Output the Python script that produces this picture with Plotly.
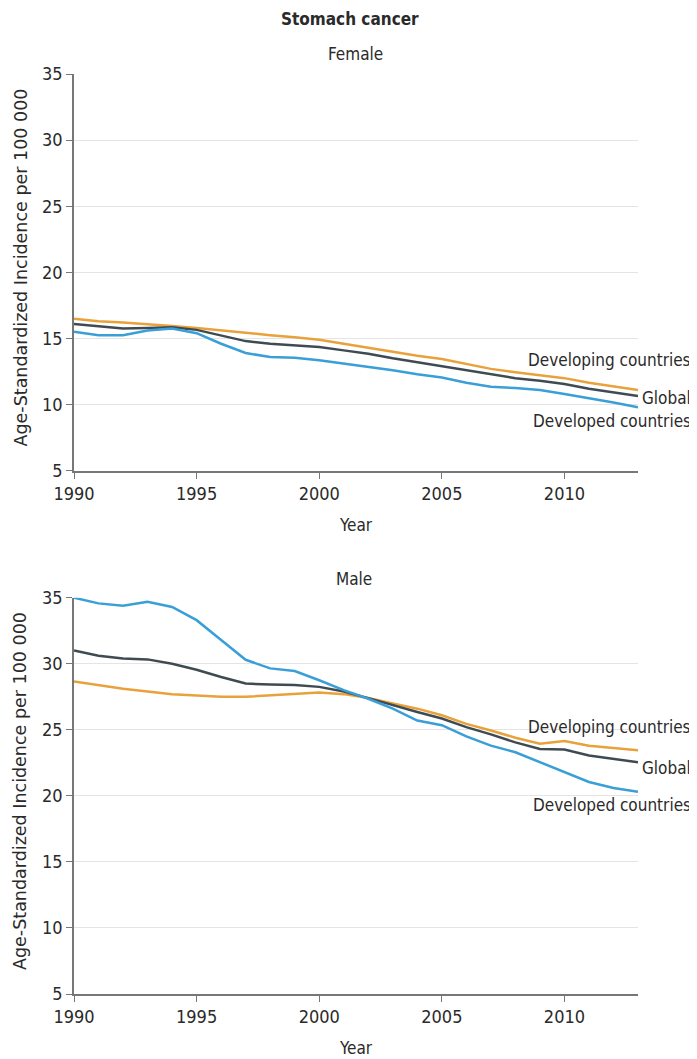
import plotly.graph_objects as go

years = list(range(1990, 2014))

female_developed = [15.5, 15.25, 15.25, 15.6, 15.75, 15.4, 14.6, 13.9, 13.6, 13.55, 13.35, 13.1,
                    12.9, 12.6, 12.3, 12.05, 11.65, 11.35, 11.25, 11.1, 10.8, 10.5, 10.15, 9.8]
female_global = [16.1, 15.9, 15.75, 15.8, 15.85, 15.65, 15.25, 14.8, 14.6, 14.5, 14.35, 14.1,
                 13.85, 13.5, 13.2, 12.9, 12.55, 12.25, 12.0, 11.8, 11.55, 11.2, 10.9, 10.65]
female_developing = [16.5, 16.3, 16.2, 16.1, 15.95, 15.8, 15.6, 15.45, 15.25, 15.1, 14.9, 14.6,
                     14.3, 13.95, 13.7, 13.45, 13.05, 12.7, 12.45, 12.25, 12.0, 11.65, 11.35, 11.1]

male_developed = [35.0, 34.57, 34.4, 34.7, 34.3, 33.3, 31.8, 30.3, 29.65, 29.45, 28.75, 28.0,
                  27.35, 26.6, 25.7, 25.35, 24.5, 23.8, 23.3, 22.55, 21.8, 21.05, 20.6, 20.3]
male_global = [31.0, 30.6, 30.4, 30.33, 30.0, 29.55, 29.0, 28.5, 28.43, 28.4, 28.25, 27.9,
               27.4, 26.85, 26.35, 25.85, 25.2, 24.65, 24.05, 23.55, 23.5, 23.05, 22.8, 22.55]
male_developing = [28.65, 28.35, 28.1, 27.9, 27.7, 27.6, 27.5, 27.5, 27.6, 27.75, 27.83, 27.7,
                   27.4, 27.0, 26.6, 26.1, 25.45, 24.95, 24.4, 23.95, 24.15, 23.8, 23.65, 23.45]

series_names = ["Developing countries", "Global", "Developed countries"]
x_ticks = [1990, 1995, 2000, 2005, 2010]
y_ticks = [5, 10, 15, 20, 25, 30, 35]

C_DEVELOPING = "#E9A23B"
C_GLOBAL = "#3E4B53"
C_DEVELOPED = "#3A9FD6"
FONT = "DejaVu Sans Condensed, Roboto, sans-serif"
FONT_REG = "DejaVu Sans, sans-serif"

# page body has an 8px margin; figure sized so it ends at the window edge
OFF = 8
W, H = 697 - OFF, 1059 - OFF


def px(x):
    return (x - OFF) / W


def py(y):
    return 1 - (y - OFF) / H


fig = go.Figure()

panels = [
    ("x", "y", female_developing, female_global, female_developed),
    ("x2", "y2", male_developing, male_global, male_developed),
]
for xa, ya, dvg, glb, dvd in panels:
    for vals, col, name in [(dvg, C_DEVELOPING, series_names[0]),
                            (glb, C_GLOBAL, series_names[1]),
                            (dvd, C_DEVELOPED, series_names[2])]:
        fig.add_trace(go.Scatter(x=years, y=vals, mode="lines", name=name,
                                 line=dict(color=col, width=2.5),
                                 xaxis=xa, yaxis=ya, showlegend=False))

xdom = [px(74), px(638)]
top_dom = [py(470.7), py(74)]
bot_dom = [py(994), py(597.7)]

axis_common_x = dict(range=[1990, 2013], tickvals=x_ticks, showgrid=False,
                     showline=True, linecolor="#777777", linewidth=1.6,
                     ticks="outside", ticklen=6, tickcolor="#777777",
                     tickfont=dict(family=FONT, size=18, color="#2a2a2a"),
                     zeroline=False, domain=xdom, automargin=False)
axis_common_y = dict(range=[5, 35], tickvals=y_ticks, showgrid=True, gridcolor="#e6e3e4",
                     gridwidth=1, showline=True, linecolor="#777777", linewidth=1.6,
                     ticks="outside", ticklen=6, tickcolor="#777777", automargin=False,
                     tickfont=dict(family=FONT, size=18, color="#2a2a2a"), zeroline=False)

fig.update_layout(
    width=W, height=H,
    margin=dict(l=0, r=0, t=0, b=0, autoexpand=False),
    paper_bgcolor="white", plot_bgcolor="white",
    xaxis=dict(**axis_common_x, anchor="y"),
    yaxis=dict(**axis_common_y, domain=top_dom, anchor="x"),
    xaxis2=dict(**axis_common_x, anchor="y2"),
    yaxis2=dict(**axis_common_y, domain=bot_dom, anchor="x2"),
    font=dict(family=FONT, color="#2a2a2a"),
)

ann = []


def text(t, x, y, size, font=FONT, xanchor="center", angle=0):
    ann.append(dict(text=t, x=px(x), y=py(y), xref="paper", yref="paper", showarrow=False,
                    font=dict(family=font, size=size, color="#2a2a2a"),
                    xanchor=xanchor, yanchor="middle", textangle=angle))


text("<b>Stomach cancer</b>", 350, 19, 17)
text("Female", 355.5, 54, 17)
text("Male", 354, 579, 17)
text("Year", 356, 525, 17)
text("Year", 356, 1048, 17)
text("Age-Standardized Incidence per 100 000", 20, 267.5, 17.5, font=FONT_REG, angle=-90)
text("Age-Standardized Incidence per 100 000", 20, 791, 17.5, font=FONT_REG, angle=-90)

label_y = [(359.5, 397.5, 421), (726.7, 768.3, 805)]
for ys in label_y:
    for name, yv in zip(series_names, ys):
        text(name, 693, yv, 17, xanchor="right")

fig.update_layout(annotations=ann)
fig.write_html("out.html")
